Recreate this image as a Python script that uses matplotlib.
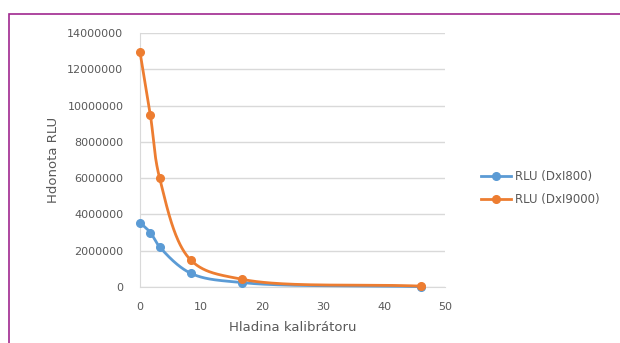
import numpy as np
import matplotlib
matplotlib.use("Agg")
import matplotlib.pyplot as plt
from matplotlib.patches import Rectangle

# Calibration levels and measured RLU values
levels_800 = [0.0, 1.7, 3.2, 8.3, 16.8, 46.0]
rlu_800 = [3550000, 3000000, 2220000, 760000, 240000, 20000]
levels_9000 = [0.0, 1.7, 3.2, 8.3, 16.8, 46.0]
rlu_9000 = [12950000, 9480000, 6030000, 1490000, 420000, 50000]

series_names = ["RLU (DxI800)", "RLU (DxI9000)"]
x_ticks = [0, 10, 20, 30, 40, 50]
y_ticks = [0, 2000000, 4000000, 6000000, 8000000, 10000000, 12000000, 14000000]

BLUE = "#5B9BD5"
ORANGE = "#ED7D31"
TEXT = "#595959"
GRID = "#D9D9D9"

AX_W, AX_H = 305.0, 254.0   # plot area size in pixels
X_MAX, Y_MAX = 50.0, 14000000.0


def smooth(x, y, n=60, alpha=0.5):
    """Centripetal Catmull-Rom curve through the points, built in screen space."""
    px = np.asarray(x, float) / X_MAX * AX_W
    py = np.asarray(y, float) / Y_MAX * AX_H
    P = np.column_stack([px, py])
    P = np.vstack([2 * P[0] - P[1], P, 2 * P[-1] - P[-2]])
    out = []
    for i in range(1, len(P) - 2):
        p0, p1, p2, p3 = P[i - 1], P[i], P[i + 1], P[i + 2]
        t0 = 0.0
        t1 = t0 + np.linalg.norm(p1 - p0) ** alpha
        t2 = t1 + np.linalg.norm(p2 - p1) ** alpha
        t3 = t2 + np.linalg.norm(p3 - p2) ** alpha
        t = np.linspace(t1, t2, n)[:, None]
        a1 = (t1 - t) / (t1 - t0) * p0 + (t - t0) / (t1 - t0) * p1
        a2 = (t2 - t) / (t2 - t1) * p1 + (t - t1) / (t2 - t1) * p2
        a3 = (t3 - t) / (t3 - t2) * p2 + (t - t2) / (t3 - t2) * p3
        b1 = (t2 - t) / (t2 - t0) * a1 + (t - t0) / (t2 - t0) * a2
        b2 = (t3 - t) / (t3 - t1) * a2 + (t - t1) / (t3 - t1) * a3
        c = (t2 - t) / (t2 - t1) * b1 + (t - t1) / (t2 - t1) * b2
        out.append(c)
    c = np.vstack(out)
    return c[:, 0] / AX_W * X_MAX, c[:, 1] / AX_H * Y_MAX


plt.rcParams["font.family"] = ["DejaVu Sans"]

fig = plt.figure(figsize=(6.2, 3.43), dpi=100)
fig.patch.set_facecolor("white")

# outer frame around the chart area
fig.add_artist(Rectangle((9 / 620, -0.05), 1.0, 1 - 14 / 343 + 0.05,
                         transform=fig.transFigure, fill=False,
                         edgecolor="#A0288F", linewidth=1.2))

ax = fig.add_axes([140 / 620, 1 - 287 / 343, AX_W / 620, AX_H / 343])

for xs, ys, col, name in [(levels_800, rlu_800, BLUE, series_names[0]),
                          (levels_9000, rlu_9000, ORANGE, series_names[1])]:
    sx, sy = smooth(xs, ys)
    ax.plot(sx, sy, color=col, linewidth=2.0, zorder=3, clip_on=False)
    ax.plot(xs, ys, linestyle="none", marker="o", markersize=5.5,
            color=col, zorder=4, clip_on=False)
    ax.plot([], [], color=col, linewidth=2.0, marker="o", markersize=5.5, label=name)

ax.set_xlim(0, X_MAX)
ax.set_ylim(0, Y_MAX)
ax.set_xticks(x_ticks)
ax.set_yticks(y_ticks)
ax.set_xticklabels([str(v) for v in x_ticks])
ax.set_yticklabels([str(v) for v in y_ticks])
ax.grid(axis="y", color=GRID, linewidth=1.0)
ax.set_axisbelow(True)
for s in ["top", "right"]:
    ax.spines[s].set_visible(False)
for s in ["left", "bottom"]:
    ax.spines[s].set_color(GRID)
ax.tick_params(length=0, colors=TEXT, labelsize=8)
ax.tick_params(axis="y", pad=12)
ax.tick_params(axis="x", pad=11)
ax.set_xlabel("Hladina kalibrátoru", color=TEXT, fontsize=9.5, labelpad=6)
ax.set_ylabel("Hdonota RLU", color=TEXT, fontsize=9.5, labelpad=5)

ax.legend(loc="center left", bbox_to_anchor=(470 / 620, 1 - 188 / 343),
          bbox_transform=fig.transFigure, frameon=False, fontsize=8.5,
          labelcolor=TEXT, handlelength=2.6, handletextpad=0.3,
          labelspacing=0.9)

fig.savefig("out.png", dpi=100, facecolor="white")
